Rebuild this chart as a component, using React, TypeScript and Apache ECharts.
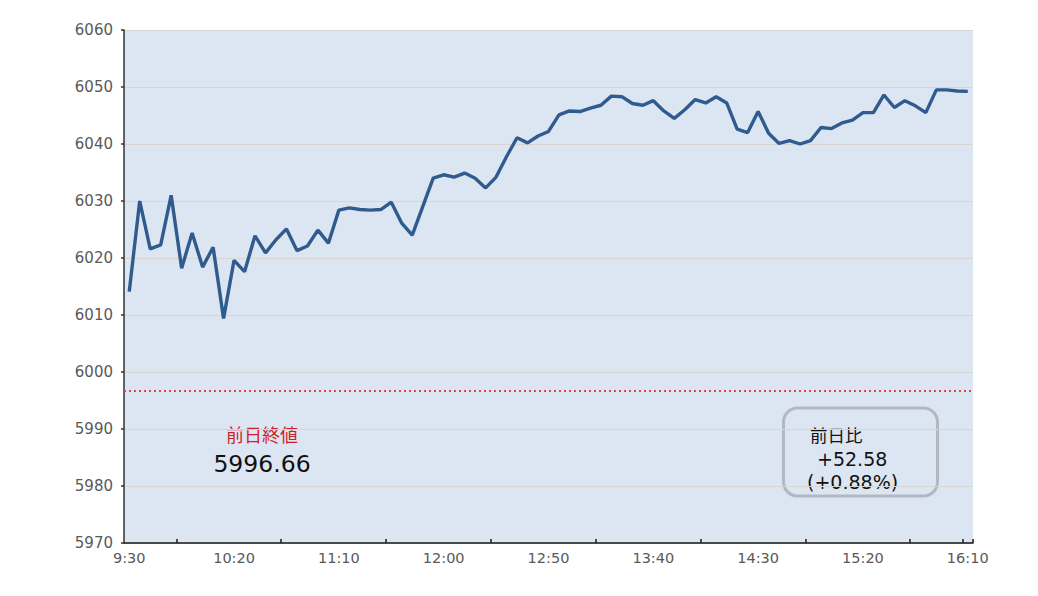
import React, { useEffect, useRef } from "react";
import * as echarts from "echarts";

const startMinutes = 9 * 60 + 30;
const stepMinutes = 5;

const prices: number[] = [
  6014.1, 6030.0, 6021.6, 6022.3, 6031.0, 6018.2, 6024.4, 6018.4, 6021.9, 6009.4,
  6019.6, 6017.6, 6023.9, 6020.9, 6023.2, 6025.1, 6021.3, 6022.1, 6024.9, 6022.6,
  6028.4, 6028.8, 6028.5, 6028.4, 6028.5, 6029.8, 6026.1, 6024.0, 6029.0, 6034.0,
  6034.6, 6034.2, 6034.9, 6034.0, 6032.3, 6034.2, 6037.8, 6041.1, 6040.2, 6041.4,
  6042.2, 6045.1, 6045.8, 6045.7, 6046.3, 6046.8, 6048.4, 6048.3, 6047.1, 6046.8,
  6047.6, 6045.8, 6044.5, 6046.0, 6047.8, 6047.2, 6048.3, 6047.2, 6042.6, 6042.0,
  6045.7, 6041.9, 6040.1, 6040.6, 6040.0, 6040.6, 6042.9, 6042.7, 6043.7, 6044.2,
  6045.5, 6045.5, 6048.6, 6046.4, 6047.6, 6046.7, 6045.5, 6049.5, 6049.5, 6049.3,
  6049.24,
];

const prevClose = 5996.66;
const prevCloseLabel = "前日終値";
const prevCloseText = "5996.66";
const diffTitle = "前日比";
const diffValue = "+52.58";
const diffPct = "(+0.88%)";

const yMin = 5970;
const yMax = 6060;
const yStep = 10;

const categories: string[] = prices.map((_, i) => {
  const m = startMinutes + i * stepMinutes;
  const h = Math.floor(m / 60);
  const mm = m % 60;
  return `${h}:${mm < 10 ? "0" + mm : mm}`;
});

export default function App() {
  const ref = useRef<HTMLDivElement>(null);
  useEffect(() => {
    if (!ref.current) return;
    const chart = echarts.init(ref.current, undefined, { renderer: "svg" });
    const jp = "'Noto Sans CJK JP', sans-serif";
    const num = "'DejaVu Sans', sans-serif";
    chart.setOption({
      animation: false,
      backgroundColor: "#ffffff",
      textStyle: { fontFamily: num },
      grid: {
        left: 124,
        right: 65,
        top: 30,
        bottom: 53,
        show: true,
        backgroundColor: "#dce6f2",
        borderWidth: 0,
      },
      xAxis: {
        type: "category",
        data: categories,
        boundaryGap: true,
        axisLine: { lineStyle: { color: "#1a1a1a", width: 1.5 } },
        axisTick: {
          show: true,
          inside: true,
          length: 4,
          interval: (i: number) => i % 10 === 5 || i === 80,
          lineStyle: { color: "#1a1a1a", width: 1.5 },
        },
        axisLabel: {
          interval: (i: number) => i % 10 === 0,
          color: "#595959",
          fontSize: 14.5,
          margin: 7,
          fontFamily: num,
        },
        splitLine: { show: false },
      },
      yAxis: {
        type: "value",
        min: yMin,
        max: yMax,
        interval: yStep,
        axisLine: { show: true, lineStyle: { color: "#333333", width: 1.5 } },
        axisTick: { show: true, inside: false, length: 3, lineStyle: { color: "#333333", width: 1.5 } },
        axisLabel: {
          color: "#595959",
          fontSize: 15,
          margin: 11,
          fontFamily: num,
          formatter: (v: number) => String(v),
        },
        splitLine: { show: true, lineStyle: { color: "#d9d6d0", width: 1 } },
      },
      series: [
        {
          type: "line",
          data: prices,
          symbol: "none",
          lineStyle: { color: "#2f5b8e", width: 3.4 },
          itemStyle: { color: "#2f5b8e" },
          markLine: {
            silent: true,
            symbol: "none",
            label: { show: false },
            lineStyle: { color: "#e0454f", type: [2, 3], width: 2 },
            data: [{ yAxis: prevClose }],
          },
          z: 3,
        },
      ],
      graphic: [
        {
          type: "text",
          x: 262,
          y: 434,
          style: {
            text: prevCloseLabel,
            fill: "#cc1f2a",
            fontSize: 18,
            fontFamily: jp,
            align: "center",
            verticalAlign: "middle",
          },
        },
        {
          type: "text",
          x: 262,
          y: 464,
          style: {
            text: prevCloseText,
            fill: "#111111",
            fontSize: 23.5,
            fontFamily: num,
            align: "center",
            verticalAlign: "middle",
          },
        },
        {
          type: "rect",
          shape: { x: 783.5, y: 408, width: 154, height: 88, r: 14 },
          style: { fill: "none", stroke: "#b3b8c0", lineWidth: 3 },
        },
        {
          type: "text",
          x: 810,
          y: 434.5,
          style: {
            text: diffTitle,
            fill: "#111111",
            fontSize: 17.5,
            fontFamily: jp,
            align: "left",
            verticalAlign: "middle",
          },
        },
        {
          type: "text",
          x: 817,
          y: 459,
          style: {
            text: diffValue,
            fill: "#111111",
            fontSize: 19,
            fontFamily: num,
            align: "left",
            verticalAlign: "middle",
          },
        },
        {
          type: "text",
          x: 807,
          y: 481.5,
          style: {
            text: diffPct,
            fill: "#111111",
            fontSize: 19,
            fontFamily: num,
            align: "left",
            verticalAlign: "middle",
          },
        },
      ],
    });
    return () => chart.dispose();
  }, []);
  return <div ref={ref} style={{ width: 1038, height: 596, position: "absolute", left: 0, top: 0 }} />;
}
